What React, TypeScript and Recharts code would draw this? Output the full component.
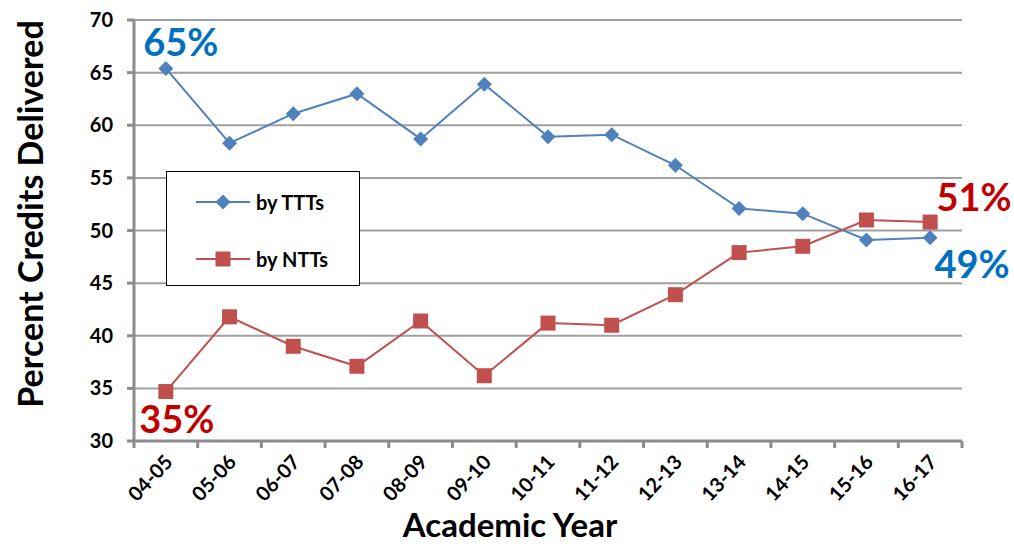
import React from 'react';
import { LineChart, Line, XAxis, YAxis, CartesianGrid, Label } from 'recharts';

const years = ['04-05', '05-06', '06-07', '07-08', '08-09', '09-10', '10-11', '11-12', '12-13', '13-14', '14-15', '15-16', '16-17'];
const tttValues = [65.4, 58.3, 61.1, 63.0, 58.7, 63.9, 58.9, 59.1, 56.2, 52.1, 51.6, 49.1, 49.3];
const nttValues = [34.7, 41.8, 39.0, 37.1, 41.4, 36.2, 41.2, 41.0, 43.9, 47.9, 48.5, 51.0, 50.8];
const yTicks = [30, 35, 40, 45, 50, 55, 60, 65, 70];
const tttCallouts = ['65%', '49%']; // first, last
const nttCallouts = ['35%', '51%'];

const BLUE = '#4F81BD';
const RED = '#C0504D';
const BLUE_TEXT = '#0070C0';
const RED_TEXT = '#C00000';
const AXIS = '#8C8C8C';

const data = years.map((year, i) => ({ idx: i, year, ttt: tttValues[i], ntt: nttValues[i] }));
const yearTicks = years.map((_, i) => i);

const DiamondDot = (props: any) => {
  const { cx, cy, index } = props;
  if (cx == null || cy == null) return null;
  const r = 7.5;
  return (
    <polygon
      key={`d-${index}`}
      points={`${cx},${cy - r} ${cx + r},${cy} ${cx},${cy + r} ${cx - r},${cy}`}
      fill={BLUE}
    />
  );
};

const SquareDot = (props: any) => {
  const { cx, cy, index } = props;
  if (cx == null || cy == null) return null;
  return <rect key={`s-${index}`} x={cx - 7.5} y={cy - 7.5} width={15} height={15} fill={RED} />;
};

// label + tick marks sitting between categories (Excel style)
const YearTick = (props: any) => {
  const { x, y, payload, width, index } = props;
  const step = width / years.length;
  const last = index === years.length - 1;
  return (
    <g>
      <line x1={x - step / 2} y1={y} x2={x - step / 2} y2={y + 7} stroke={AXIS} strokeWidth={3} />
      {last && <line x1={x + step / 2} y1={y} x2={x + step / 2} y2={y + 7} stroke={AXIS} strokeWidth={3} />}
      <g transform={`translate(${x + 8},${y + 22})`}>
        <text x={0} y={0} textAnchor="end" transform="rotate(-47)" fontSize={20} fontWeight={700} fill="#000">
          {years[payload.value]}
        </text>
      </g>
    </g>
  );
};

// big percent callouts at the first and last point of each series
const makeCallout = (texts: string[], color: string, first: [number, number], last: [number, number]) => (props: any) => {
  const { x, y, index } = props;
  if (x == null || y == null) return null;
  let t: string | null = null;
  let off: [number, number] = [0, 0];
  if (index === 0) { t = texts[0]; off = first; }
  if (index === years.length - 1) { t = texts[1]; off = last; }
  if (!t) return null;
  return (
    <text key={`c-${index}`} x={x + off[0]} y={y + off[1]} textAnchor="middle" fontSize={38} fontWeight={700} fill={color}>
      {t}
    </text>
  );
};

const tttLabel = makeCallout(tttCallouts, BLUE_TEXT, [15, -12], [42, 40]);
const nttLabel = makeCallout(nttCallouts, RED_TEXT, [11, 41], [44, -11]);

const App = () => {
  return (
    <div style={{ position: 'absolute', left: 0, top: 0, width: 1014, height: 546, background: '#fff', fontFamily: 'Lato, "Open Sans", sans-serif' }}>
      <LineChart width={1014} height={546} data={data} margin={{ top: 20, right: 52, bottom: 0, left: 0 }}>
        <CartesianGrid vertical={false} stroke="#A0A0A0" strokeWidth={2} />
        <XAxis
          type="number"
          dataKey="idx"
          domain={[-0.5, years.length - 0.5]}
          ticks={yearTicks}
          interval={0}
          allowDataOverflow
          height={105}
          tickSize={0}
          tickMargin={0}
          axisLine={{ stroke: AXIS, strokeWidth: 3 }}
          tickLine={false}
          tick={<YearTick />}
        >
          <Label
            content={() => (
              <text x={510} y={537} textAnchor="middle" fontSize={33} fontWeight={700} fill="#000">
                Academic Year
              </text>
            )}
          />
        </XAxis>
        <YAxis
          domain={[30, 70]}
          ticks={yTicks}
          interval={0}
          width={134}
          tickSize={7}
          tickMargin={14}
          axisLine={{ stroke: AXIS, strokeWidth: 3 }}
          tickLine={{ stroke: AXIS, strokeWidth: 3 }}
          tick={{ fontSize: 20, fontWeight: 700, fill: '#000' }}
        >
          <Label
            content={() => (
              <text x={0} y={0} transform="translate(43,214) rotate(-90)" textAnchor="middle" fontSize={34} fontWeight={700} fill="#000">
                Percent Credits Delivered
              </text>
            )}
          />
        </YAxis>
        <Line
          type="linear"
          dataKey="ttt"
          stroke={BLUE}
          strokeWidth={2}
          dot={DiamondDot}
          activeDot={false}
          label={tttLabel}
          isAnimationActive={false}
        />
        <Line
          type="linear"
          dataKey="ntt"
          stroke={RED}
          strokeWidth={2}
          dot={SquareDot}
          activeDot={false}
          label={nttLabel}
          isAnimationActive={false}
        />
      </LineChart>
      <div
        style={{
          position: 'absolute', left: 166, top: 171, width: 192, height: 113,
          border: '1px solid #000', background: '#fff', fontSize: 20, fontWeight: 700,
        }}
      >
        <div style={{ position: 'absolute', left: 29, top: 18, display: 'flex', alignItems: 'center' }}>
          <svg width={54} height={18}>
            <line x1={0} y1={9} x2={54} y2={9} stroke={BLUE} strokeWidth={2} />
            <polygon points="27,1.5 34.5,9 27,16.5 19.5,9" fill={BLUE} />
          </svg>
          <span style={{ marginLeft: 6 }}>by TTTs</span>
        </div>
        <div style={{ position: 'absolute', left: 29, top: 75, display: 'flex', alignItems: 'center' }}>
          <svg width={54} height={18}>
            <line x1={0} y1={9} x2={54} y2={9} stroke={RED} strokeWidth={2} />
            <rect x={19.5} y={1.5} width={15} height={15} fill={RED} />
          </svg>
          <span style={{ marginLeft: 6 }}>by NTTs</span>
        </div>
      </div>
    </div>
  );
};

export default App;
